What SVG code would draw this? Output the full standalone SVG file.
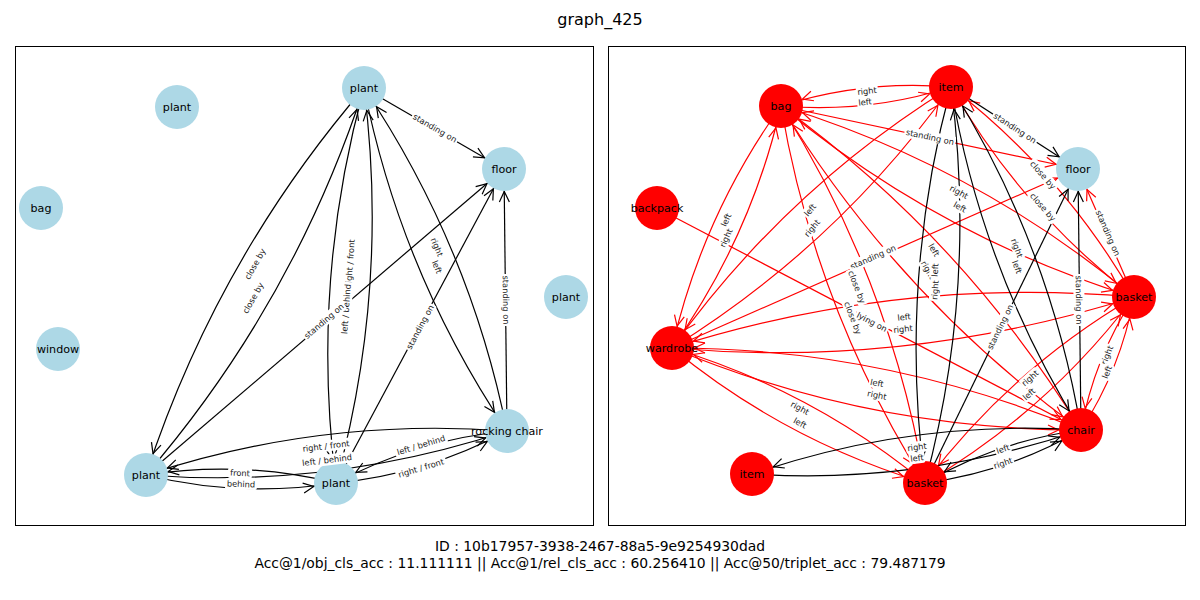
<svg xmlns="http://www.w3.org/2000/svg" width="1200" height="600" viewBox="0 0 1200 600">
<style>
text{font-family:"DejaVu Sans","Liberation Sans",sans-serif;fill:#000}
.title{font-size:16px;text-anchor:middle}
.foot{font-size:13.9px;text-anchor:middle}
.frame{fill:none;stroke:#000;stroke-width:1}
.e{fill:none;stroke-width:1.2}
.k{stroke:#000;marker-end:url(#ak)}
.r{stroke:#f00;marker-end:url(#ar)}
.n text{font-size:11.1px;text-anchor:middle}
.lb{fill:#add8e6}
.rd{fill:#f00}
.el rect{fill:#fff}
.el text{font-size:8.3px;text-anchor:middle;fill:#222}
</style>
<defs>
<marker id="ak" markerUnits="userSpaceOnUse" orient="auto" markerWidth="1" markerHeight="1" refX="0" refY="0" overflow="visible"><path d="M-33,-5 L-22.5,0 L-33,5" fill="none" stroke="#000" stroke-width="1.2"/></marker>
<marker id="ar" markerUnits="userSpaceOnUse" orient="auto" markerWidth="1" markerHeight="1" refX="0" refY="0" overflow="visible"><path d="M-33,-5 L-22.5,0 L-33,5" fill="none" stroke="#f00" stroke-width="1.2"/></marker>
</defs>
<rect width="1200" height="600" fill="#fff"/>
<text class="title" x="600" y="25">graph_425</text>
<rect class="frame" x="15.5" y="46.5" width="578" height="479"/>
<rect class="frame" x="608.5" y="46.5" width="577" height="479"/>

<g id="connectors-left">
<path class="e k" d="M364,88 Q216.3,259.7 146,475"/>
<path class="e k" d="M146,475 Q293.7,303.3 364,88"/>
<path class="e k" d="M364,88 Q310.5,282.7 336,483"/>
<path class="e k" d="M336,483 Q389.5,288.3 364,88"/>
<path class="e k" d="M364,88 Q401.2,273.8 507,431"/>
<path class="e k" d="M507,431 Q469.8,245.2 364,88"/>
<path class="e k" d="M146,475 Q240.2,498 336,483"/>
<path class="e k" d="M336,483 Q241.8,460 146,475"/>
<path class="e k" d="M146,475 Q330.9,489.1 507,431"/>
<path class="e k" d="M507,431 Q322.1,416.9 146,475"/>
<path class="e k" d="M336,483 Q426.7,474.1 507,431"/>
<path class="e k" d="M507,431 Q416.3,439.9 336,483"/>
<path class="e k" d="M364,88 L504,169"/>
<path class="e k" d="M146,475 L504,169"/>
<path class="e k" d="M336,483 L504,169"/>
<path class="e k" d="M507,431 L504,169"/>
</g>

<g id="connectors-right">
<path class="e r" d="M781,106 Q867.9,113.5 951,87"/>
<path class="e r" d="M951,87 Q864.1,79.5 781,106"/>
<path class="e r" d="M781,106 Q702.3,216.1 672,348"/>
<path class="e r" d="M672,348 Q750.7,237.9 781,106"/>
<path class="e r" d="M951,87 Q785.4,189.6 672,348"/>
<path class="e r" d="M672,348 Q837.6,245.4 951,87"/>
<path class="e r" d="M781,106 Q938.4,236.8 1134,297"/>
<path class="e r" d="M1134,297 Q976.6,166.2 781,106"/>
<path class="e r" d="M781,106 Q898.6,298 1081,430"/>
<path class="e r" d="M1081,430 Q963.4,238 781,106"/>
<path class="e r" d="M781,106 Q815.3,308.9 925,483"/>
<path class="e r" d="M925,483 Q890.7,280.1 781,106"/>
<path class="e r" d="M951,87 Q1021.5,210.3 1134,297"/>
<path class="e r" d="M1134,297 Q1063.5,173.7 951,87"/>
<path class="e r" d="M672,348 Q908.1,368.7 1134,297"/>
<path class="e r" d="M1134,297 Q897.9,276.3 672,348"/>
<path class="e r" d="M672,348 Q868.3,429.9 1081,430"/>
<path class="e r" d="M1081,430 Q884.7,348.1 672,348"/>
<path class="e r" d="M672,348 Q785,440.8 925,483"/>
<path class="e r" d="M925,483 Q812,390.2 672,348"/>
<path class="e r" d="M1134,297 Q1094.2,358.2 1081,430"/>
<path class="e r" d="M1081,430 Q1120.8,368.8 1134,297"/>
<path class="e r" d="M1134,297 Q1010.9,369.1 925,483"/>
<path class="e r" d="M925,483 Q1048.1,410.9 1134,297"/>
<path class="e r" d="M781,106 L1078,169"/>
<path class="e r" d="M672,348 L1078,169"/>
<path class="e r" d="M1134,297 L1078,169"/>
<path class="e r" d="M657,208 L1081,430"/>
<path class="e k" d="M951,87 Q898.4,282.4 925,483"/>
<path class="e k" d="M925,483 Q977.6,287.6 951,87"/>
<path class="e k" d="M951,87 Q981.7,271.5 1081,430"/>
<path class="e k" d="M1081,430 Q1050.3,245.5 951,87"/>
<path class="e k" d="M752,474 Q920.9,484.9 1081,430"/>
<path class="e k" d="M1081,430 Q912.1,419.1 752,474"/>
<path class="e k" d="M925,483 Q1008.3,472.1 1081,430"/>
<path class="e k" d="M1081,430 Q997.7,440.9 925,483"/>
<path class="e k" d="M951,87 L1078,169"/>
<path class="e k" d="M1081,430 L1078,169"/>
<path class="e k" d="M925,483 L1078,169"/>
</g>

<g id="n-left-plant-top" class="n"><circle class="lb" cx="364" cy="88" r="22"/><text x="364" y="92">plant</text></g>
<g id="n-left-plant-1" class="n"><circle class="lb" cx="177" cy="107" r="22"/><text x="177" y="111">plant</text></g>
<g id="n-left-floor" class="n"><circle class="lb" cx="504" cy="169" r="22"/><text x="504" y="173">floor</text></g>
<g id="n-left-bag" class="n"><circle class="lb" cx="41" cy="208" r="22"/><text x="41" y="212">bag</text></g>
<g id="n-left-plant-right" class="n"><circle class="lb" cx="566" cy="297" r="22"/><text x="566" y="301">plant</text></g>
<g id="n-left-window" class="n"><circle class="lb" cx="58" cy="349" r="22"/><text x="58" y="353">window</text></g>
<g id="n-left-rocking-chair" class="n"><circle class="lb" cx="507" cy="431" r="22"/><text x="507" y="435">rocking chair</text></g>
<g id="n-left-plant-bl" class="n"><circle class="lb" cx="146" cy="475" r="22"/><text x="146" y="479">plant</text></g>
<g id="n-left-plant-bm" class="n"><circle class="lb" cx="336" cy="483" r="22"/><text x="336" y="487">plant</text></g>

<g id="n-right-item-top" class="n"><circle class="rd" cx="951" cy="87" r="22"/><text x="951" y="91">item</text></g>
<g id="n-right-bag" class="n"><circle class="rd" cx="781" cy="106" r="22"/><text x="781" y="110">bag</text></g>
<g id="n-right-floor" class="n"><circle class="lb" cx="1078" cy="169" r="22"/><text x="1078" y="173">floor</text></g>
<g id="n-right-backpack" class="n"><circle class="rd" cx="657" cy="208" r="22"/><text x="657" y="212">backpack</text></g>
<g id="n-right-basket-r" class="n"><circle class="rd" cx="1134" cy="297" r="22"/><text x="1134" y="301">basket</text></g>
<g id="n-right-wardrobe" class="n"><circle class="rd" cx="672" cy="348" r="22"/><text x="672" y="352">wardrobe</text></g>
<g id="n-right-chair" class="n"><circle class="rd" cx="1081" cy="430" r="22"/><text x="1081" y="434">chair</text></g>
<g id="n-right-item-bottom" class="n"><circle class="rd" cx="752" cy="474" r="22"/><text x="752" y="478">item</text></g>
<g id="n-right-basket-b" class="n"><circle class="rd" cx="925" cy="483" r="22"/><text x="925" y="487">basket</text></g>

<g id="edge-labels-left" class="el">
<g transform="translate(435 128) rotate(30)"><rect x="-26" y="-5.5" width="52" height="11" rx="2"/><text y="3">standing on</text></g>
<g transform="translate(255 264) rotate(-60.6)"><rect x="-19" y="-5.5" width="38" height="11" rx="2"/><text y="3">close by</text></g>
<g transform="translate(253 298) rotate(-60.6)"><rect x="-19" y="-5.5" width="38" height="11" rx="2"/><text y="3">close by</text></g>
<g transform="translate(350 263) rotate(-85.9)"><rect x="-26" y="-5.5" width="52" height="11" rx="2"/><text y="3">right / front</text></g>
<g transform="translate(346 309) rotate(-85.9)"><rect x="-27" y="-5.5" width="54" height="11" rx="2"/><text y="3">left / behind</text></g>
<g transform="translate(437 247) rotate(67.4)"><rect x="-11" y="-5.5" width="22" height="11" rx="2"/><text y="3">right</text></g>
<g transform="translate(437 267) rotate(67.4)"><rect x="-8" y="-5.5" width="16" height="11" rx="2"/><text y="3">left</text></g>
<g transform="translate(324 321) rotate(-40.5)"><rect x="-26" y="-5.5" width="52" height="11" rx="2"/><text y="3">standing on</text></g>
<g transform="translate(420 327) rotate(-61.9)"><rect x="-26" y="-5.5" width="52" height="11" rx="2"/><text y="3">standing on</text></g>
<g transform="translate(506 300) rotate(89.3)"><rect x="-26" y="-5.5" width="52" height="11" rx="2"/><text y="3">standing on</text></g>
<g transform="translate(240 473) rotate(2.4)"><rect x="-12" y="-5.5" width="24" height="11" rx="2"/><text y="3">front</text></g>
<g transform="translate(241 484) rotate(2.4)"><rect x="-16" y="-5.5" width="32" height="11" rx="2"/><text y="3">behind</text></g>
<g transform="translate(326 446) rotate(-7)"><rect x="-26" y="-5.5" width="52" height="11" rx="2"/><text y="3">right / front</text></g>
<g transform="translate(327 460) rotate(-7)"><rect x="-27" y="-5.5" width="54" height="11" rx="2"/><text y="3">left / behind</text></g>
<g transform="translate(421 445) rotate(-17)"><rect x="-27" y="-5.5" width="54" height="11" rx="2"/><text y="3">left / behind</text></g>
<g transform="translate(421 468) rotate(-17)"><rect x="-26" y="-5.5" width="52" height="11" rx="2"/><text y="3">right / front</text></g>
</g>

<g id="edge-labels-right" class="el">
<g transform="translate(867 91) rotate(-6.4)"><rect x="-11" y="-5.5" width="22" height="11" rx="2"/><text y="3">right</text></g>
<g transform="translate(865 102) rotate(-6.4)"><rect x="-8" y="-5.5" width="16" height="11" rx="2"/><text y="3">left</text></g>
<g transform="translate(930 137) rotate(12)"><rect x="-26" y="-5.5" width="52" height="11" rx="2"/><text y="3">standing on</text></g>
<g transform="translate(1015 128) rotate(32.8)"><rect x="-26" y="-5.5" width="52" height="11" rx="2"/><text y="3">standing on</text></g>
<g transform="translate(1043 175) rotate(48.9)"><rect x="-19" y="-5.5" width="38" height="11" rx="2"/><text y="3">close by</text></g>
<g transform="translate(1043 207) rotate(48.9)"><rect x="-19" y="-5.5" width="38" height="11" rx="2"/><text y="3">close by</text></g>
<g transform="translate(1108 233) rotate(66.4)"><rect x="-26" y="-5.5" width="52" height="11" rx="2"/><text y="3">standing on</text></g>
<g transform="translate(726 220) rotate(-65.8)"><rect x="-8" y="-5.5" width="16" height="11" rx="2"/><text y="3">left</text></g>
<g transform="translate(726 238) rotate(-65.8)"><rect x="-11" y="-5.5" width="22" height="11" rx="2"/><text y="3">right</text></g>
<g transform="translate(810 210) rotate(-50)"><rect x="-8" y="-5.5" width="16" height="11" rx="2"/><text y="3">left</text></g>
<g transform="translate(812 228) rotate(-50)"><rect x="-11" y="-5.5" width="22" height="11" rx="2"/><text y="3">right</text></g>
<g transform="translate(959 192) rotate(28.4)"><rect x="-11" y="-5.5" width="22" height="11" rx="2"/><text y="3">right</text></g>
<g transform="translate(960 207) rotate(28.4)"><rect x="-8" y="-5.5" width="16" height="11" rx="2"/><text y="3">left</text></g>
<g transform="translate(1017 248) rotate(69.2)"><rect x="-11" y="-5.5" width="22" height="11" rx="2"/><text y="3">right</text></g>
<g transform="translate(1017 267) rotate(69.2)"><rect x="-8" y="-5.5" width="16" height="11" rx="2"/><text y="3">left</text></g>
<g transform="translate(873 257) rotate(-23.8)"><rect x="-26" y="-5.5" width="52" height="11" rx="2"/><text y="3">standing on</text></g>
<g transform="translate(857 287) rotate(69.1)"><rect x="-19" y="-5.5" width="38" height="11" rx="2"/><text y="3">close by</text></g>
<g transform="translate(853 318) rotate(69.1)"><rect x="-19" y="-5.5" width="38" height="11" rx="2"/><text y="3">close by</text></g>
<g transform="translate(872 322) rotate(27.6)"><rect x="-18" y="-5.5" width="36" height="11" rx="2"/><text y="3">lying on</text></g>
<g transform="translate(904 317) rotate(-6.3)"><rect x="-8" y="-5.5" width="16" height="11" rx="2"/><text y="3">left</text></g>
<g transform="translate(903 329) rotate(-6.3)"><rect x="-11" y="-5.5" width="22" height="11" rx="2"/><text y="3">right</text></g>
<g transform="translate(934 250) rotate(60)"><rect x="-8" y="-5.5" width="16" height="11" rx="2"/><text y="3">left</text></g>
<g transform="translate(928 270) rotate(60)"><rect x="-11" y="-5.5" width="22" height="11" rx="2"/><text y="3">right</text></g>
<g transform="translate(935 270) rotate(-86)"><rect x="-8" y="-5.5" width="16" height="11" rx="2"/><text y="3">left</text></g>
<g transform="translate(935 290) rotate(-86)"><rect x="-11" y="-5.5" width="22" height="11" rx="2"/><text y="3">right</text></g>
<g transform="translate(1079 300) rotate(89.3)"><rect x="-26" y="-5.5" width="52" height="11" rx="2"/><text y="3">standing on</text></g>
<g transform="translate(1000 327) rotate(-64)"><rect x="-26" y="-5.5" width="52" height="11" rx="2"/><text y="3">standing on</text></g>
<g transform="translate(1107 355) rotate(-68.3)"><rect x="-11" y="-5.5" width="22" height="11" rx="2"/><text y="3">right</text></g>
<g transform="translate(1107 372) rotate(-68.3)"><rect x="-8" y="-5.5" width="16" height="11" rx="2"/><text y="3">left</text></g>
<g transform="translate(1030 378) rotate(-41.7)"><rect x="-11" y="-5.5" width="22" height="11" rx="2"/><text y="3">right</text></g>
<g transform="translate(1029 394) rotate(-41.7)"><rect x="-8" y="-5.5" width="16" height="11" rx="2"/><text y="3">left</text></g>
<g transform="translate(800 408) rotate(28)"><rect x="-11" y="-5.5" width="22" height="11" rx="2"/><text y="3">right</text></g>
<g transform="translate(800 423) rotate(28)"><rect x="-8" y="-5.5" width="16" height="11" rx="2"/><text y="3">left</text></g>
<g transform="translate(877 383) rotate(11.3)"><rect x="-8" y="-5.5" width="16" height="11" rx="2"/><text y="3">left</text></g>
<g transform="translate(877 395) rotate(11.3)"><rect x="-11" y="-5.5" width="22" height="11" rx="2"/><text y="3">right</text></g>
<g transform="translate(917 447) rotate(-7.6)"><rect x="-11" y="-5.5" width="22" height="11" rx="2"/><text y="3">right</text></g>
<g transform="translate(917 458) rotate(-7.6)"><rect x="-8" y="-5.5" width="16" height="11" rx="2"/><text y="3">left</text></g>
<g transform="translate(1003 449) rotate(-18.8)"><rect x="-8" y="-5.5" width="16" height="11" rx="2"/><text y="3">left</text></g>
<g transform="translate(1003 463) rotate(-18.8)"><rect x="-11" y="-5.5" width="22" height="11" rx="2"/><text y="3">right</text></g>
</g>

<text class="foot" x="600" y="551">ID : 10b17957-3938-2467-88a5-9e9254930dad</text>
<text class="foot" x="600" y="568">Acc@1/obj_cls_acc : 11.111111 || Acc@1/rel_cls_acc : 60.256410 || Acc@50/triplet_acc : 79.487179</text>
</svg>
